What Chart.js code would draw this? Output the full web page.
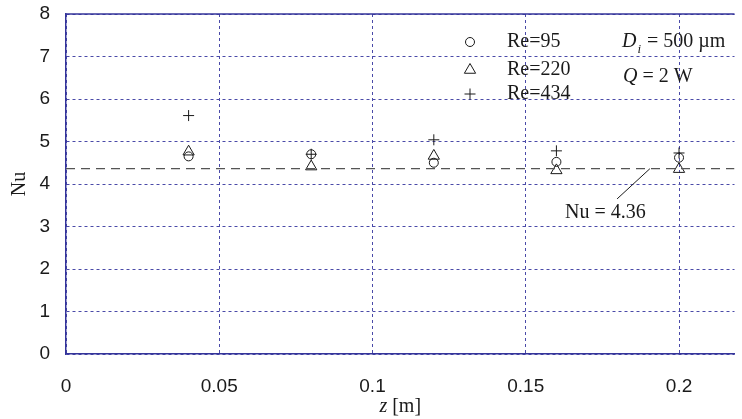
<!DOCTYPE html>
<html>
<head>
<meta charset="utf-8">
<script src="https://cdn.jsdelivr.net/npm/chart.js@4.4.1/dist/chart.umd.min.js"></script>
<style>
  html, body { margin: 0; padding: 0; background: #fff; overflow: hidden; }
  #wrap { width: 742px; height: 419px; position: relative; }
</style>
</head>
<body>
<div id="wrap"><canvas id="c"></canvas></div>
<script>
// ---- data ----
const xTickValues = [0, 0.05, 0.1, 0.15, 0.2];
const yTickValues = [0, 1, 2, 3, 4, 5, 6, 7, 8];
const zPositions = [0.04, 0.08, 0.12, 0.16, 0.2];
const nuRe95  = [4.65, 4.70, 4.50, 4.52, 4.62];
const nuRe220 = [4.76, 4.41, 4.66, 4.32, 4.35];
const nuRe434 = [5.61, 4.70, 5.04, 4.78, 4.73];
const seriesLabels = ['Re=95', 'Re=220', 'Re=434'];
const nuTheory = 4.36;
const xMin = 0, xMax = 0.2181;
const yMin = 0, yMax = 8;

// ---- styles ----
const AXIS = '#34349a';
const GRID = '#4a4aa8';
const INK = '#1a1a1a';
const SANS = '"Liberation Sans", Arial, sans-serif';
const SERIF = '"Liberation Serif", "Times New Roman", serif';

function pts(vals) { return zPositions.map((z, i) => ({ x: z, y: vals[i] })); }

const markerStyles = [
  { pointStyle: 'circle', radius: 4.5 },
  { pointStyle: 'triangle', radius: 6.5 },
  { pointStyle: 'cross', radius: 5.5 }
];
const seriesData = [nuRe95, nuRe220, nuRe434];

const datasets = seriesData.map((vals, i) => ({
  type: 'scatter',
  label: seriesLabels[i],
  data: pts(vals),
  pointStyle: markerStyles[i].pointStyle,
  pointRadius: markerStyles[i].radius,
  pointHoverRadius: markerStyles[i].radius,
  pointBorderColor: INK,
  pointBackgroundColor: 'rgba(0,0,0,0)',
  pointBorderWidth: 1,
  showLine: false
}));

datasets.unshift({
  type: 'line',
  label: 'Nu = 4.36',
  data: [{ x: xMin, y: nuTheory }, { x: xMax, y: nuTheory }],
  borderColor: '#555',
  borderWidth: 1.2,
  borderDash: [9, 6],
  pointRadius: 0,
  fill: false
});

// annotation anchor (data coordinates)
const noteText = 'Nu = 4.36';
const noteAt = { x: 0.176, y: 3.33 };
const leaderFrom = { x: 0.1798, y: 3.65 };
const leaderTo = { x: 0.1905, y: nuTheory };

const decor = {
  id: 'decor',
  afterDraw(chart) {
    const { ctx, chartArea: a, scales: { x, y } } = chart;
    ctx.save();
    // top frame line
    ctx.strokeStyle = AXIS;
    ctx.lineWidth = 1.5;
    ctx.beginPath();
    ctx.moveTo(a.left, a.top);
    ctx.lineTo(a.right, a.top);
    ctx.stroke();

    // x-axis title: italic z + [m]
    ctx.fillStyle = INK;
    ctx.textBaseline = 'middle';
    const cx = (a.left + a.right) / 2, ty = 407;
    ctx.font = 'italic 20px ' + SERIF;
    const wz = ctx.measureText('z').width;
    ctx.font = '20px ' + SERIF;
    const wm = ctx.measureText(' [m]').width;
    let sx = cx - (wz + wm) / 2;
    ctx.font = 'italic 20px ' + SERIF;
    ctx.textAlign = 'left';
    ctx.fillText('z', sx, ty);
    ctx.font = '20px ' + SERIF;
    ctx.fillText(' [m]', sx + wz, ty);

    // annotation
    ctx.strokeStyle = INK;
    ctx.lineWidth = 1;
    ctx.beginPath();
    ctx.moveTo(x.getPixelForValue(leaderFrom.x), y.getPixelForValue(leaderFrom.y));
    ctx.lineTo(x.getPixelForValue(leaderTo.x), y.getPixelForValue(leaderTo.y));
    ctx.stroke();
    ctx.font = '20px ' + SERIF;
    ctx.textAlign = 'center';
    ctx.fillText(noteText, x.getPixelForValue(noteAt.x), y.getPixelForValue(noteAt.y));

    // legend
    const legY = [42, 70, 94];
    const helpers = Chart.helpers;
    seriesLabels.forEach((lab, i) => {
      const ms = markerStyles[i];
      ctx.strokeStyle = INK;
      ctx.fillStyle = 'rgba(0,0,0,0)';
      ctx.lineWidth = 1;
      helpers.drawPoint(ctx, { pointStyle: ms.pointStyle, radius: ms.radius, borderWidth: 1, rotation: 0 }, 470, legY[i]);
      ctx.fillStyle = INK;
      ctx.textAlign = 'left';
      ctx.font = '20px ' + SERIF;
      ctx.fillText(lab, 507, legY[i]);
    });

    // parameters: D_i = 500 µm, Q = 2 W
    ctx.textAlign = 'left';
    let px = 622, py = 42;
    ctx.font = 'italic 20px ' + SERIF;
    ctx.fillText('D', px, py);
    px += ctx.measureText('D').width;
    ctx.font = 'italic 13px ' + SERIF;
    ctx.fillText('i', px + 1, py + 8);
    px += ctx.measureText('i').width + 2;
    ctx.font = '20px ' + SERIF;
    ctx.fillText(' = 500 \u00b5m', px, py);

    px = 623; py = 77;
    ctx.font = 'italic 20px ' + SERIF;
    ctx.fillText('Q', px, py);
    px += ctx.measureText('Q').width;
    ctx.font = '20px ' + SERIF;
    ctx.fillText(' = 2 W', px, py);
    ctx.restore();
  }
};

new Chart(document.getElementById('c'), {
  data: { datasets },
  options: {
    responsive: true,
    maintainAspectRatio: false,
    animation: false,
    events: [],
    layout: { padding: { top: 14, left: 0, right: 0, bottom: 0 } },
    plugins: { legend: { display: false }, tooltip: { enabled: false }, title: { display: false } },
    scales: {
      x: {
        type: 'linear',
        position: 'bottom',
        min: xMin,
        max: xMax,
        afterBuildTicks: (s) => { s.ticks = xTickValues.map(v => ({ value: v })); },
        afterFit: (s) => { s.height = 65; s.paddingLeft = 0; s.paddingRight = 0; },
        ticks: {
          font: { family: SANS, size: 19 },
          color: INK,
          padding: 21,
          maxRotation: 0,
          callback: (v) => String(v)
        },
        grid: { color: GRID, lineWidth: 1, drawTicks: false },
        border: { display: true, color: AXIS, width: 1.5, dash: [3, 3] }
      },
      y: {
        type: 'linear',
        min: yMin,
        max: yMax,
        afterBuildTicks: (s) => { s.ticks = yTickValues.map(v => ({ value: v })); },
        afterFit: (s) => { s.width = 66; s.paddingTop = 0; s.paddingBottom = 0; },
        ticks: {
          font: { family: SANS, size: 19 },
          color: INK,
          padding: 16,
          callback: (v) => String(v)
        },
        title: {
          display: true,
          text: 'Nu',
          font: { family: SERIF, size: 20 },
          color: INK,
          padding: { top: 8, bottom: 0 }
        },
        grid: { color: GRID, lineWidth: 1, drawTicks: false },
        border: { display: true, color: AXIS, width: 1.5, dash: [3, 3] }
      }
    }
  },
  plugins: [decor]
});
</script>
</body>
</html>
